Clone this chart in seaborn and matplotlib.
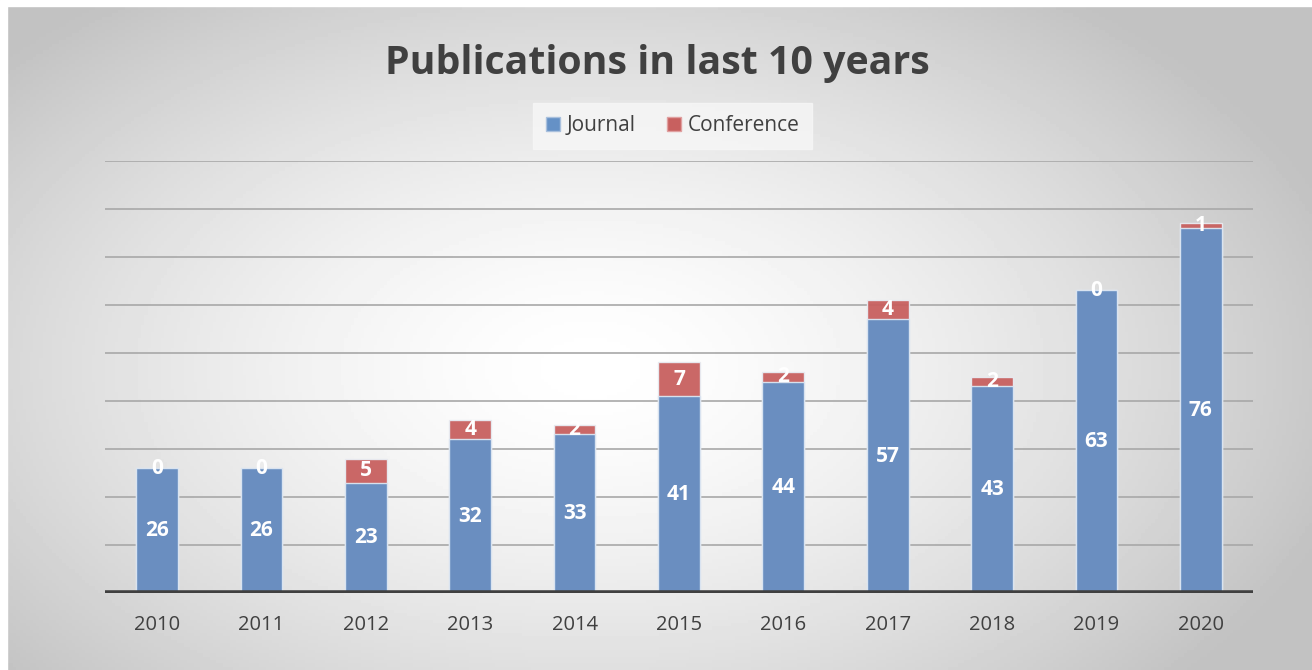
import matplotlib
matplotlib.use("Agg")
import matplotlib.pyplot as plt
from matplotlib.patches import Patch
import seaborn as sns
import numpy as np
import pandas as pd

years = ['2010', '2011', '2012', '2013', '2014', '2015', '2016', '2017', '2018', '2019', '2020']
journal = [26, 26, 23, 32, 33, 41, 44, 57, 43, 63, 76]
conference = [0, 0, 5, 4, 2, 7, 2, 4, 2, 0, 1]

blue = '#6591c6'
red = '#c8605f'
text_col = '#404040'

sns.set_theme(style='white')
plt.rcParams['font.family'] = ['Open Sans', 'DejaVu Sans']

df = pd.DataFrame({'year': years, 'Journal': journal, 'Conference': conference})
df['total'] = df['Journal'] + df['Conference']

fig = plt.figure(figsize=(13.12, 6.70), dpi=100)

# radial gradient background, white in the middle, grey toward the edges
bg = fig.add_axes([0, 0, 1, 1], zorder=-10)
gx, gy = np.meshgrid(np.linspace(0, 1, 400), np.linspace(0, 1, 200))
r = np.sqrt(((gx - 0.45) / 0.60) ** 2 + ((gy - 0.55) / 0.70) ** 2)
shade = 1.0 - 0.24 * np.clip(r, 0, 1) ** 1.5
bg.imshow(shade, cmap='gray', vmin=0, vmax=1, extent=[0, 1, 0, 1], aspect='auto',
          origin='upper')
bg.set_xlim(0, 1)
bg.set_ylim(0, 1)
bg.axis('off')
# thin white frame around the picture (top and left)
bg.add_patch(plt.Rectangle((0, 0.991), 1, 0.009, color='white', transform=bg.transAxes))
bg.add_patch(plt.Rectangle((0, 0), 0.0055, 1, color='white', transform=bg.transAxes))

ax = fig.add_axes([0.080, 0.115, 0.875, 0.645])
ax.set_facecolor('none')

sns.barplot(data=df, x='year', y='total', color=red, width=0.4, saturation=1,
            edgecolor='#e8ecf2', linewidth=1, alpha=0.95, ax=ax, zorder=3)
sns.barplot(data=df, x='year', y='Journal', color=blue, width=0.4, saturation=1,
            edgecolor='#dce6f2', linewidth=1, alpha=0.95, ax=ax, zorder=4)

ax.set_ylim(0, 90)
ax.set_xlim(-0.5, len(years) - 0.5)
for v in range(10, 91, 10):
    ax.axhline(v, color='#a8a8a8', lw=1.2, zorder=1)
ax.axhline(0, color='#404040', lw=4, zorder=5)

for s in ax.spines.values():
    s.set_visible(False)
ax.set_yticks([])
ax.set_xlabel('')
ax.set_ylabel('')
ax.tick_params(axis='x', length=0, pad=16, labelsize=14.5, labelcolor=text_col)

for i, (j, c) in enumerate(zip(journal, conference)):
    ax.text(i, j / 2, str(j), ha='center', va='center', color='white',
            fontsize=15, fontweight='bold', zorder=6)
    ax.text(i, j + c / 2, str(c), ha='center', va='center', color='white',
            fontsize=15, fontweight='bold', zorder=6)

fig.text(0.501, 0.905, 'Publications in last 10 years', ha='center', va='center',
         fontsize=28.3, fontweight='bold', color=text_col)

handles = [Patch(facecolor=blue, edgecolor='#a9c0dd', label='Journal'),
           Patch(facecolor=red, edgecolor='#e0a0a0', label='Conference')]
leg = fig.legend(handles=handles, loc='center', bbox_to_anchor=(0.5125, 0.812), ncol=2,
                 frameon=True, fontsize=15, handlelength=0.7, handleheight=0.7,
                 handletextpad=0.3, columnspacing=1.5, borderpad=0.6,
                 borderaxespad=0, fancybox=False)
leg.get_frame().set_facecolor('#f7f7f7')
leg.get_frame().set_edgecolor('#f7f7f7')
for t in leg.get_texts():
    t.set_color(text_col)

fig.savefig('out.png', dpi=100)
